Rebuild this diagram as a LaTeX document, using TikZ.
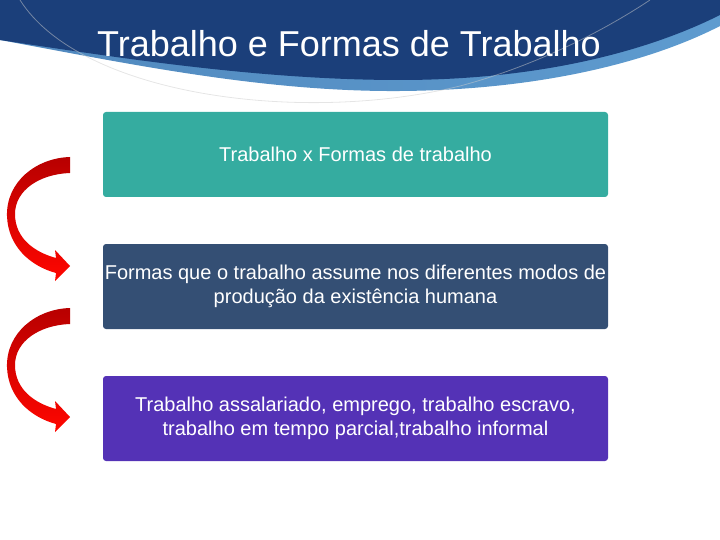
\documentclass[tikz,border=0pt]{standalone}
\usepackage{fontspec}
\setmainfont{Liberation Sans}

\definecolor{bannerdark}{HTML}{1B3F7A}
\definecolor{bannermid}{HTML}{3A6CA6}
\definecolor{bannerlight}{HTML}{5E9BCF}
\definecolor{tealbox}{HTML}{35ACA0}
\definecolor{navybox}{HTML}{344F74}
\definecolor{purplebox}{HTML}{5432B6}

\tikzset{
  box/.style={rounded corners=3pt, minimum width=505pt, minimum height=85pt,
    inner sep=1pt, align=center, text=white,
    font=\fontsize{20}{24}\selectfont},
  redarrow/.style={top color=red!72!black, bottom color=red!95!orange},
}

\begin{document}
\begin{tikzpicture}[x=1pt,y=-1pt]

  \useasboundingbox (0,0) rectangle (720,540);

  % banner
  \shade[left color=bannerlight!80!bannerdark, right color=bannerlight]
    (0,40) .. controls (120,62) and (260,92) .. (400,91)
    .. controls (540,90) and (650,62) .. (720,26) -- (720,0) -- (0,0) -- cycle;
  \shade[left color=bannerdark, middle color=bannermid, right color=bannerdark]
    (0,40) .. controls (120,58) and (260,80) .. (400,80)
    .. controls (530,80) and (640,55) .. (720,15) -- (720,0) -- (0,0) -- cycle;
  \draw[gray!40, opacity=0.5, line width=0.8pt]
    (20,0) .. controls (80,95) and (300,125) .. (460,86)
    .. controls (550,62) and (620,20) .. (650,0);
  \node[anchor=base, text=white, font=\fontsize{36}{40}\selectfont, inner sep=0pt]
    (title) at (349,57) {Trabalho e Formas de Trabalho};

  % boxes
  \node[box, fill=tealbox] (kinds) at (355.5,154.5) {Trabalho x Formas de trabalho};
  \node[box, fill=navybox] (modes) at (355.5,286.5)
    {Formas que o trabalho assume nos diferentes modos de\\produção da existência humana};
  \node[box, fill=purplebox] (types) at (355.5,418.5)
    {Trabalho assalariado, emprego, trabalho escravo,\\trabalho em tempo parcial,trabalho informal};

  % arrows
  \begin{scope}
  \shade[redarrow] (70,157) .. controls (36,158) and (6,182) .. (7,216)
    .. controls (8,246) and (30,266) .. (56,273)
    -- (55,281) -- (70,266) -- (55,250) -- (56,258)
    .. controls (34,252) and (15,238) .. (15,214)
    .. controls (15,190) and (40,174) .. (70,173) -- cycle;
  \end{scope}

  \begin{scope}[shift={(0,151)}]
  \shade[redarrow] (70,157) .. controls (36,158) and (6,182) .. (7,216)
    .. controls (8,246) and (30,266) .. (56,273)
    -- (55,281) -- (70,266) -- (55,250) -- (56,258)
    .. controls (34,252) and (15,238) .. (15,214)
    .. controls (15,190) and (40,174) .. (70,173) -- cycle;
  \end{scope}

\end{tikzpicture}
\end{document}
